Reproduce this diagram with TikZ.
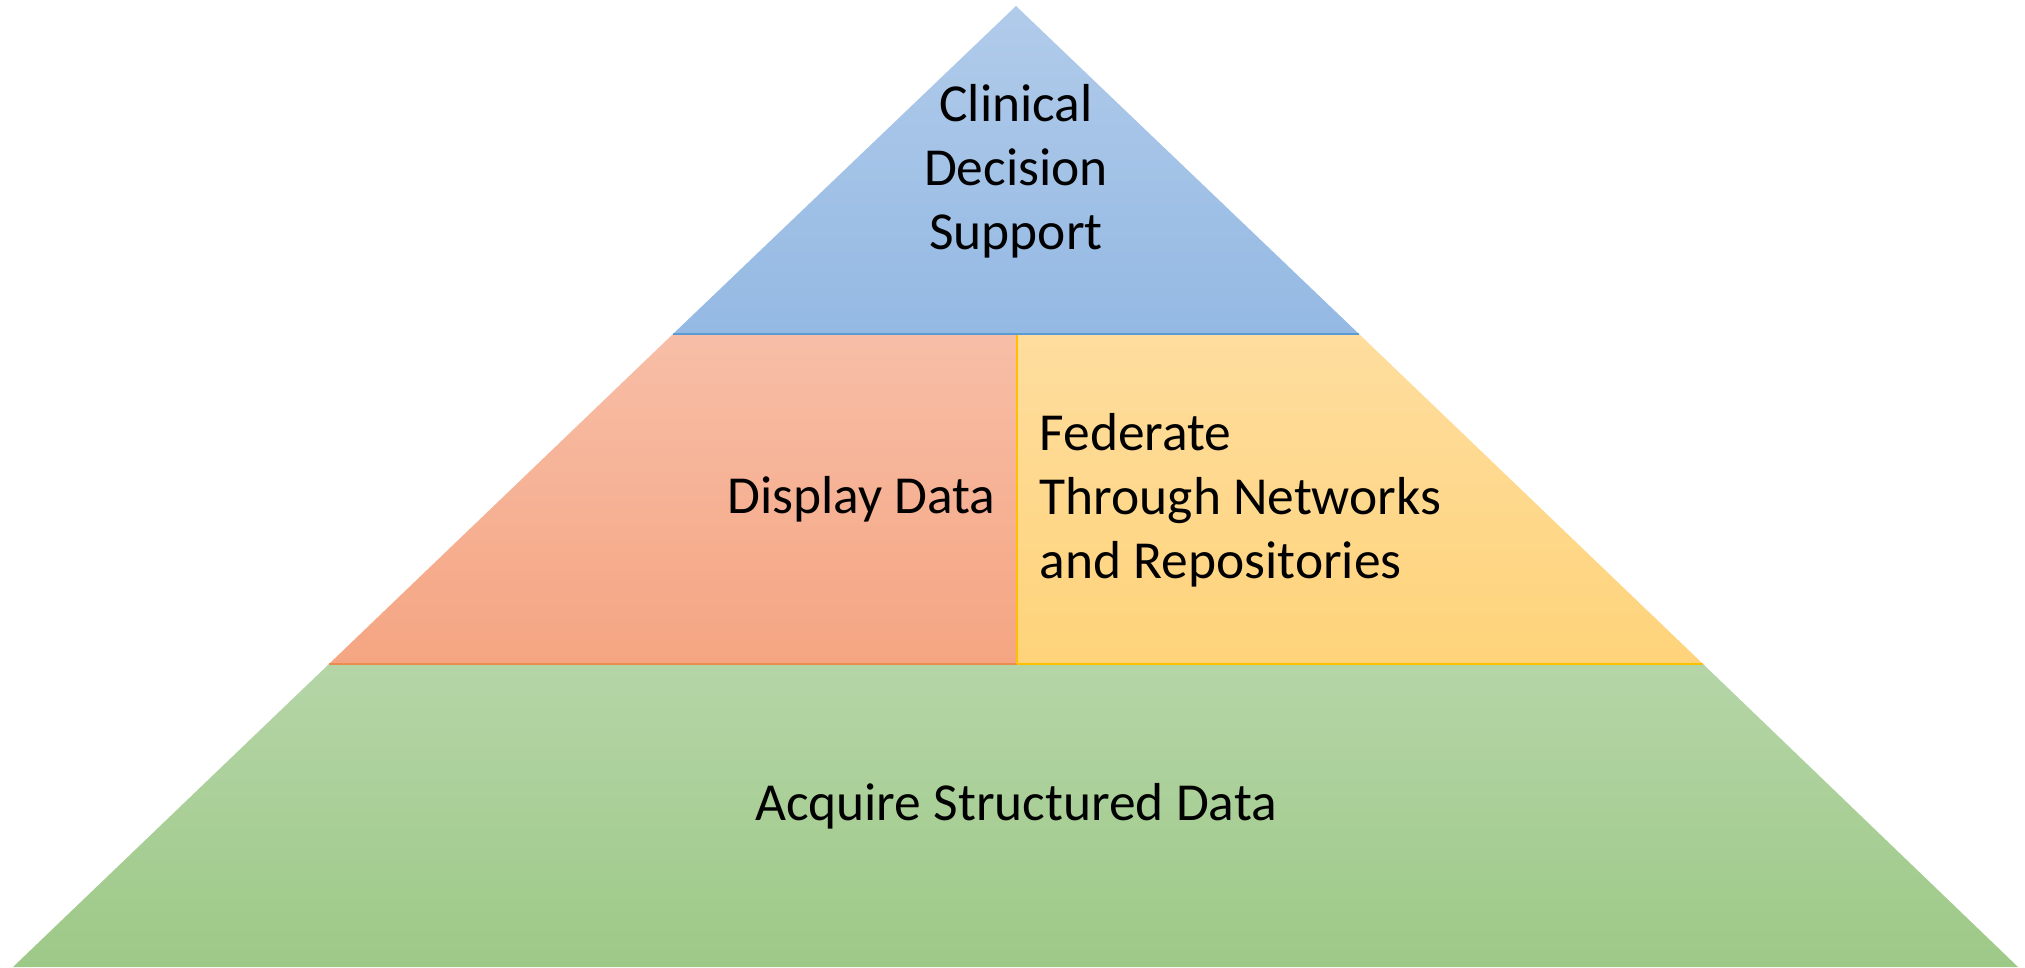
\documentclass[tikz,border=0pt]{standalone}
\usepackage{fontspec}
\setmainfont{Carlito}
\usepackage{tikz}
\usetikzlibrary{calc}

\definecolor{blueTop}{RGB}{177,203,234}
\definecolor{blueBot}{RGB}{148,185,227}
\definecolor{blueLine}{RGB}{91,155,213}
\definecolor{orangeTop}{RGB}{247,190,167}
\definecolor{orangeBot}{RGB}{245,165,130}
\definecolor{orangeLine}{RGB}{234,140,80}
\definecolor{yellowTop}{RGB}{254,221,158}
\definecolor{yellowBot}{RGB}{254,211,122}
\definecolor{yellowLine}{RGB}{255,192,0}
\definecolor{greenTop}{RGB}{181,213,167}
\definecolor{greenBot}{RGB}{157,201,135}

\tikzset{
    tierlabel/.style={font=\fontsize{15.2}{18.2}\selectfont, inner sep=0pt},
    edgeline/.style={line width=0.8pt}
}

\begin{document}
\begin{tikzpicture}[x=0.01cm, y=-0.01cm]
                    \useasboundingbox (0,0) rectangle (2025,967);
                    % tiers
                    \shade[top color=greenTop, bottom color=greenBot] (329,664) -- (1703,664) -- (2018,967) -- (13,967) -- cycle;
                    \shade[top color=orangeTop, bottom color=orangeBot] (673,334) -- (1017,334) -- (1017,664) -- (329,664) -- cycle;
                    \shade[top color=yellowTop, bottom color=yellowBot] (1017,334) -- (1359,334) -- (1703,664) -- (1017,664) -- cycle;
                    \shade[top color=blueTop, bottom color=blueBot] (1016,6) -- (1359,334) -- (673,334) -- cycle;
                    % edges
                    \draw[edgeline, blueLine] (673,334) -- (1359,334);
                    \draw[edgeline, orangeLine] (329,664) -- (1017,664);
                    \draw[edgeline, yellowLine] (1017,664) -- (1703,664);
                    \draw[edgeline, yellowLine] (1017,335) -- (1017,664);
                    % labels
                    \node[tierlabel, align=center] (support) at (1016,171) {Clinical\\Decision\\Support};
                    \node[tierlabel, anchor=east] (display) at (996,499) {Display Data};
                    \node[tierlabel, anchor=west, align=left] (federate) at (1039,500) {Federate\\Through Networks\\and Repositories};
                    \node[tierlabel] (acquire) at (1016,806) {Acquire Structured Data};
                \end{tikzpicture}
\end{document}
